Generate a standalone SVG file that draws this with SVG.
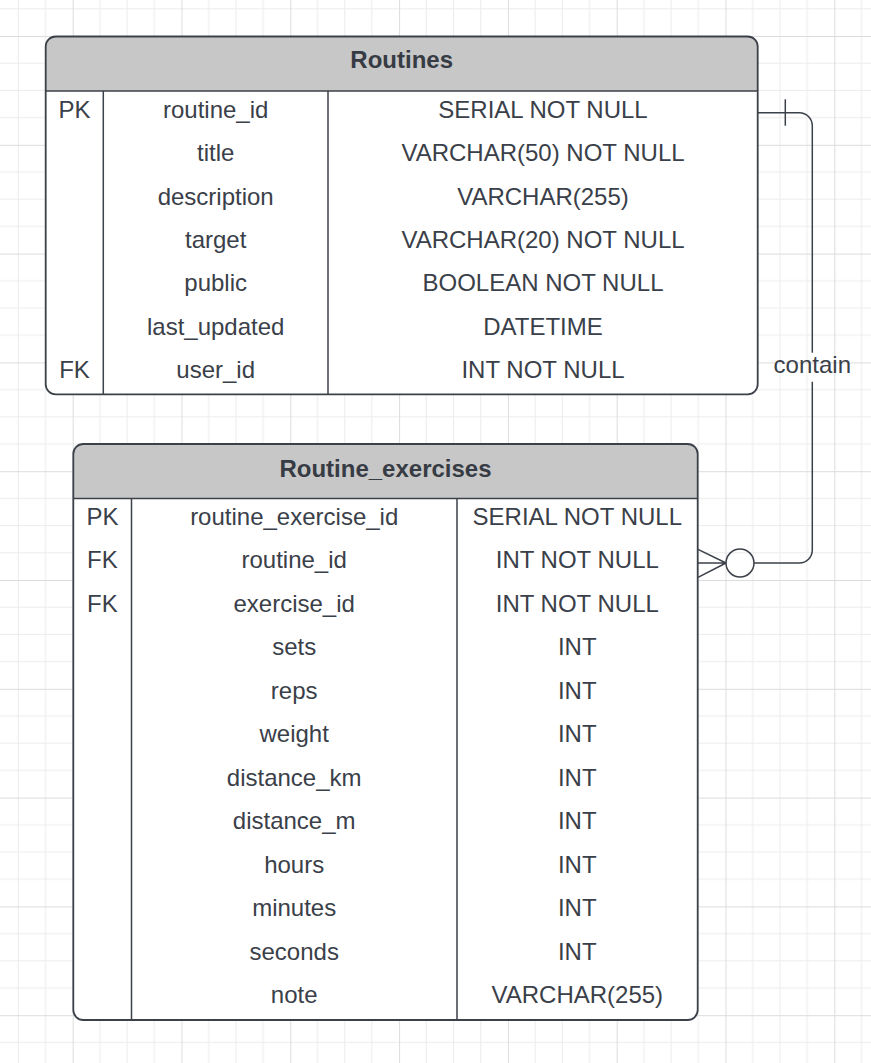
<svg xmlns="http://www.w3.org/2000/svg" width="871" height="1063" viewBox="0 0 871 1063">
<defs>
<pattern id="grid" patternUnits="userSpaceOnUse" x="-36.1" y="-72.8" width="108.8" height="108.8">
<path d="M27.2,0V108.8M54.4,0V108.8M81.6,0V108.8M0,27.2H108.8M0,54.4H108.8M0,81.6H108.8" stroke="#ececec" stroke-width="1" fill="none"/>
<path d="M0.5,0V108.8M0,0.5H108.8" stroke="#dcdcdc" stroke-width="1" fill="none"/>
</pattern>
<style>
.tbl{fill:#ffffff;stroke:none}
.hdr{fill:#c7c7c7;stroke:none}
.out{fill:none;stroke:#3b4049;stroke-width:1.8}
.ln{stroke:#3b4049;stroke-width:1.5;fill:none}
.t{font-family:"Liberation Sans",Arial,sans-serif;font-size:24px;fill:#3a4049;text-anchor:middle}
.h{font-family:"Liberation Sans",Arial,sans-serif;font-size:24px;font-weight:bold;fill:#363b44;text-anchor:middle}
.con{stroke:#3b4049;stroke-width:1.5;fill:none}
</style>
</defs>
<rect x="0" y="0" width="871" height="1063" fill="#ffffff"/>
<rect x="0" y="0" width="871" height="1063" fill="url(#grid)"/>

<g id="connectors">
<path class="con" d="M757.7,112.7H799.3A13,13 0 0 1 812.3,125.7V352.7"/>
<path class="con" d="M812.3,381.7V550A13,13 0 0 1 799.3,563H754"/>
<line class="con" x1="785.3" y1="99.3" x2="785.3" y2="125.7"/>
<circle class="con" cx="740" cy="563" r="14" fill="#ffffff"/>
<path class="con" d="M698,549.3L726,563M698,563H726M698,577.3L726,563"/>
<text class="t" x="812.3" y="372.7">contain</text>
</g>

<g id="routines">
<rect class="tbl" x="45.7" y="36.5" width="712" height="357.8" rx="10"/>
<path class="hdr" d="M45.7,91V46.5A10,10 0 0 1 55.7,36.5H747.7A10,10 0 0 1 757.7,46.5V91Z"/>
<line class="ln" x1="45.7" y1="91" x2="757.7" y2="91"/>
<line class="ln" x1="103.3" y1="91" x2="103.3" y2="394.3"/>
<line class="ln" x1="328" y1="91" x2="328" y2="394.3"/>
<rect class="out" x="45.7" y="36.5" width="712" height="357.8" rx="10"/>
<text class="h" x="401.7" y="67.7">Routines</text>
<text class="t" x="74.5" y="117.7">PK</text>
<text class="t" x="215.7" y="117.7">routine_id</text>
<text class="t" x="543" y="117.7">SERIAL NOT NULL</text>
<text class="t" x="215.7" y="161.1">title</text>
<text class="t" x="543" y="161.1">VARCHAR(50) NOT NULL</text>
<text class="t" x="215.7" y="204.5">description</text>
<text class="t" x="543" y="204.5">VARCHAR(255)</text>
<text class="t" x="215.7" y="247.9">target</text>
<text class="t" x="543" y="247.9">VARCHAR(20) NOT NULL</text>
<text class="t" x="215.7" y="291.3">public</text>
<text class="t" x="543" y="291.3">BOOLEAN NOT NULL</text>
<text class="t" x="215.7" y="334.7">last_updated</text>
<text class="t" x="543" y="334.7">DATETIME</text>
<text class="t" x="74.5" y="378.1">FK</text>
<text class="t" x="215.7" y="378.1">user_id</text>
<text class="t" x="543" y="378.1">INT NOT NULL</text>
</g>

<g id="routine_exercises">
<rect class="tbl" x="73.3" y="444" width="624.4" height="576" rx="10"/>
<path class="hdr" d="M73.3,498.5V454A10,10 0 0 1 83.3,444H687.7A10,10 0 0 1 697.7,454V498.5Z"/>
<line class="ln" x1="73.3" y1="498.5" x2="697.7" y2="498.5"/>
<line class="ln" x1="131.5" y1="498.5" x2="131.5" y2="1020"/>
<line class="ln" x1="457" y1="498.5" x2="457" y2="1020"/>
<rect class="out" x="73.3" y="444" width="624.4" height="576" rx="10"/>
<text class="h" x="385.5" y="476.7">Routine_exercises</text>
<text class="t" x="102.4" y="525">PK</text>
<text class="t" x="294.2" y="525">routine_exercise_id</text>
<text class="t" x="577.3" y="525">SERIAL NOT NULL</text>
<text class="t" x="102.4" y="568.4">FK</text>
<text class="t" x="294.2" y="568.4">routine_id</text>
<text class="t" x="577.3" y="568.4">INT NOT NULL</text>
<text class="t" x="102.4" y="611.9">FK</text>
<text class="t" x="294.2" y="611.9">exercise_id</text>
<text class="t" x="577.3" y="611.9">INT NOT NULL</text>
<text class="t" x="294.2" y="655.3">sets</text>
<text class="t" x="577.3" y="655.3">INT</text>
<text class="t" x="294.2" y="698.8">reps</text>
<text class="t" x="577.3" y="698.8">INT</text>
<text class="t" x="294.2" y="742.2">weight</text>
<text class="t" x="577.3" y="742.2">INT</text>
<text class="t" x="294.2" y="785.7">distance_km</text>
<text class="t" x="577.3" y="785.7">INT</text>
<text class="t" x="294.2" y="829.1">distance_m</text>
<text class="t" x="577.3" y="829.1">INT</text>
<text class="t" x="294.2" y="872.6">hours</text>
<text class="t" x="577.3" y="872.6">INT</text>
<text class="t" x="294.2" y="916">minutes</text>
<text class="t" x="577.3" y="916">INT</text>
<text class="t" x="294.2" y="959.5">seconds</text>
<text class="t" x="577.3" y="959.5">INT</text>
<text class="t" x="294.2" y="1003">note</text>
<text class="t" x="577.3" y="1003">VARCHAR(255)</text>
</g>
</svg>
